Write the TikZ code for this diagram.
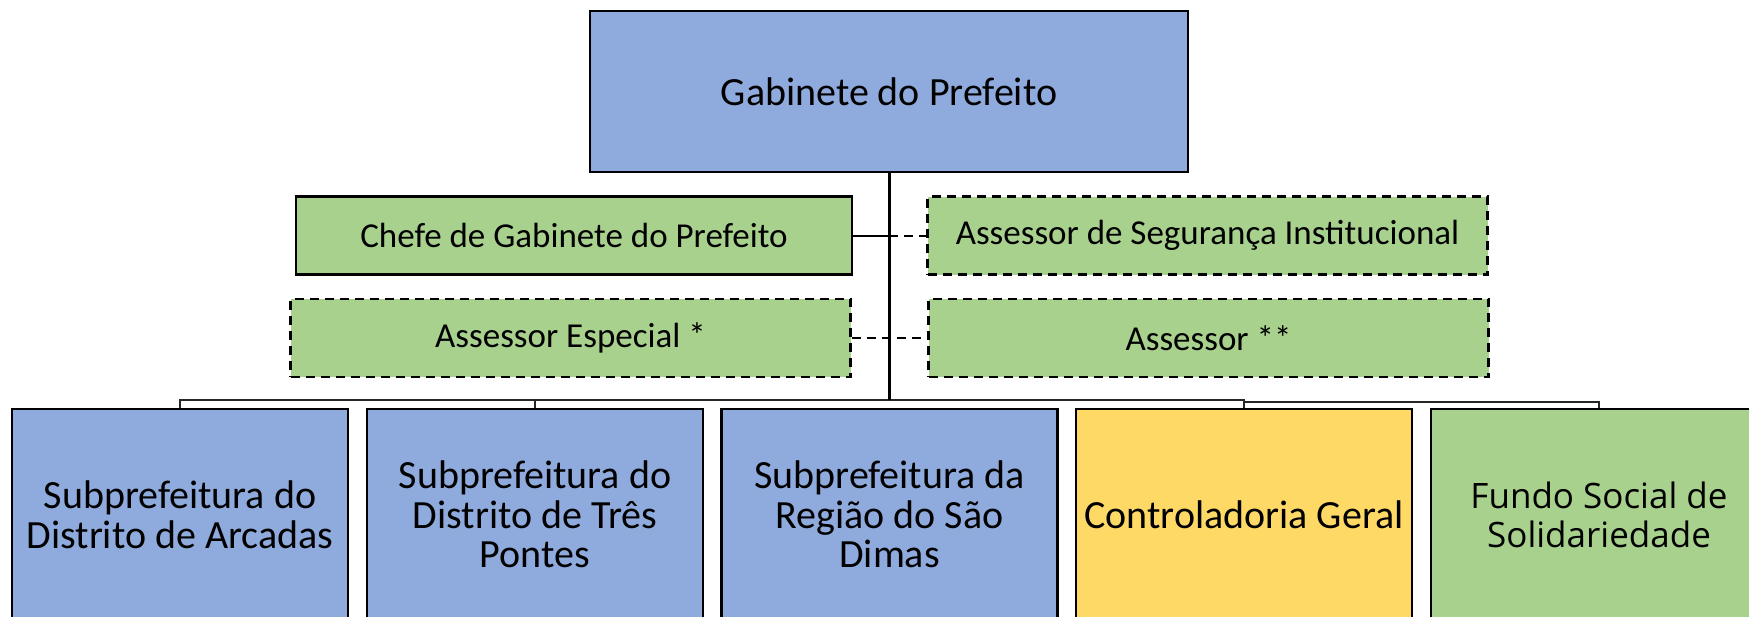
\documentclass[tikz,border=0pt]{standalone}
\usepackage{fontspec}
\setmainfont{Carlito}
\newfontfamily\opensansfont{Open Sans}
\definecolor{boxblue}{HTML}{8FAADC}
\definecolor{boxgreen}{HTML}{A9D18E}
\definecolor{boxyellow}{HTML}{FFD966}
\tikzset{
  orgbox/.style={draw=black, line width=1.1pt, inner sep=0pt, align=center},
  topbox/.style={orgbox, fill=boxblue, minimum width=299pt, minimum height=80.5pt, font=\fontsize{20}{24}\selectfont},
  staffbox/.style={orgbox, fill=boxgreen, minimum width=280pt, minimum height=39pt, font=\fontsize{17.5}{20}\selectfont},
  dashbox/.style={staffbox, dash pattern=on 4.5pt off 3pt},
  unitbox/.style={orgbox, minimum width=168pt, minimum height=105.5pt, font=\fontsize{20}{19.8}\selectfont},
  trunkline/.style={draw=black, line width=1.5pt},
  busline/.style={draw=black!85, line width=0.9pt},
  dashline/.style={draw=black, line width=1pt, dash pattern=on 4.5pt off 3pt}
}
\begin{document}
\begin{tikzpicture}[x=0.5pt,y=-0.5pt]
\useasboundingbox (0,0) rectangle (1749,616);
\clip (0,0) rectangle (1749,616);
\fill[white] (0,0) rectangle (1749,616);

\node[topbox] (gab) at (889,91.5) {Gabinete do Prefeito};

\node[staffbox, minimum width=278pt] (chefe) at (574,235.5) {Chefe de Gabinete do Prefeito};
\node[dashbox] (seg) at (1207.5,235.5) {Assessor de Segurança Institucional};
\node[dashbox] (esp) at (570.5,338) {Assessor Especial *};
\node[dashbox] (ass) at (1208.5,338) {Assessor **};

\node[unitbox, fill=boxblue] (u1) at (180,514.5) {Subprefeitura do\\Distrito de Arcadas};
\node[unitbox, fill=boxblue] (u2) at (535,514.5) {Subprefeitura do\\Distrito de Três\\Pontes};
\node[unitbox, fill=boxblue] (u3) at (889.5,514.5) {Subprefeitura da\\Região do São\\Dimas};
\node[unitbox, fill=boxyellow] (u4) at (1244,514.5) {Controladoria Geral};
\node[unitbox, fill=boxgreen, font=\opensansfont\fontsize{17.5}{19.5}\selectfont] (u5) at (1599,514.5) {Fundo Social de\\Solidariedade};

\coordinate (bus) at (889,400);
\coordinate (busr) at (1244,402);

% bus and drops
\draw[busline] (u1.north) -- (u1.north |- bus) -- (u4.north |- bus) -- (u4.north);
\draw[busline] (u2.north) -- (u2.north |- bus);
\draw[busline] (u4.north |- busr) -- (u5.north |- busr) -- (u5.north);

% trunk
\draw[trunkline] (gab.south) -- (gab.south |- bus);

% staff connectors
\draw[line width=1pt] (chefe.east) -- (chefe.east -| gab.south);
\draw[dashline] (chefe.east -| gab.south) -- (seg.west);
\draw[dashline] (esp.east) -- (ass.west);
\end{tikzpicture}
\end{document}
